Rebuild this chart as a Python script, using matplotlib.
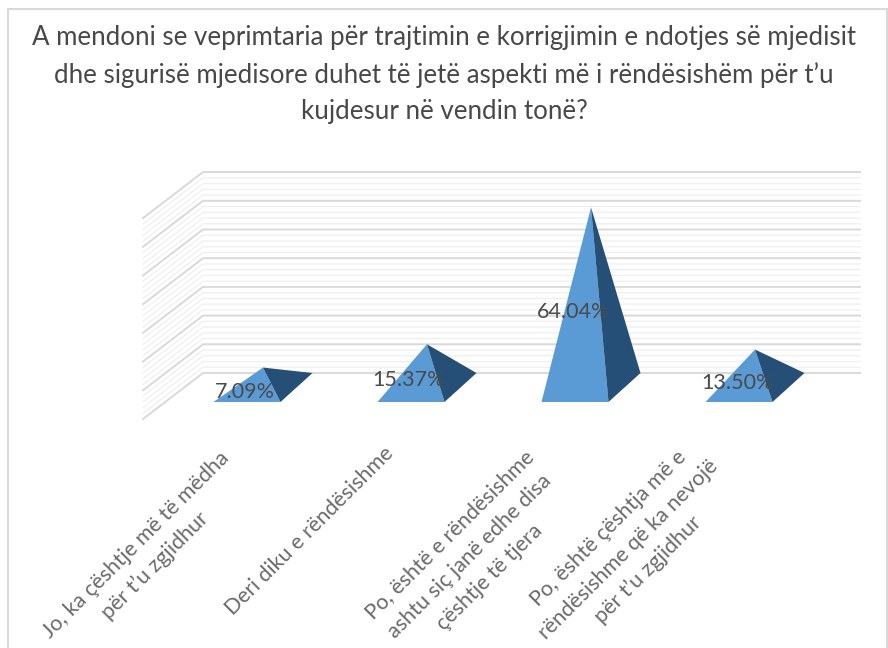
import matplotlib
matplotlib.use('Agg')
import matplotlib.pyplot as plt
from matplotlib.patches import Polygon, Rectangle

plt.rcParams['font.family'] = ['Lato', 'DejaVu Sans']

# values
categories = [
    'Jo, ka çështje më të mëdha\npër t\u2019u zgjidhur',
    'Deri diku e rëndësishme',
    'Po, është e rëndësishme\nashtu siç janë edhe disa\nçështje të tjera',
    'Po, është çështja më e\nrëndësishme që ka nevojë\npër t\u2019u zgjidhur',
]
values = [7.09, 15.37, 64.04, 13.50]
value_labels = ['7.09%', '15.37%', '64.04%', '13.50%']
major_ticks = [0, 10, 20, 30, 40, 50, 60, 70]
minor_ticks = [v for v in range(0, 70, 2) if v % 10 != 0]
title_lines = [
    'A mendoni se veprimtaria për trajtimin e korrigjimin e ndotjes së mjedisit',
    'dhe sigurisë mjedisore duhet të jetë aspekti më i rëndësishëm për t\u2019u',
    'kujdesur në vendin tonë?',
]

W, H = 888, 648
X_UNIT = 164.0   # px per category
Y_UNIT = 2.87    # px per percent
X0, Y0 = 247.0, 373.0

fig = plt.figure(figsize=(W / 100, H / 100), dpi=100)
ax = fig.add_axes([0, 0, 1, 1])
ax.set_xlim(-X0 / X_UNIT, (W - X0) / X_UNIT)
ax.set_ylim(-(H - Y0) / Y_UNIT, Y0 / Y_UNIT)
ax.axis('off')

# depth of the 3D box, in data units
wall_dx = -60 / X_UNIT
wall_dy = -46 / Y_UNIT
wall_x = -44 / X_UNIT
right_x = 613 / X_UNIT


def draw_grid(ticks, color, lw):
    for t in ticks:
        ax.plot([wall_x + wall_dx, wall_x, right_x], [t + wall_dy, t, t], color=color, lw=lw, zorder=1)


draw_grid(minor_ticks, '#efefef', 0.9)
draw_grid(major_ticks, '#d9d9d9', 1.4)

# pyramids: front face and side face
half = 33.5 / X_UNIT
depth_x = 32 / X_UNIT
depth_y = 29 / Y_UNIT
height_scale = 0.98
for i, v in enumerate(values):
    left = (i - half, -depth_y)
    right = (i + half, -depth_y)
    back = (i + half + depth_x, 0)
    apex_y = v * height_scale - depth_y / 2
    apex = (i + depth_x / 2, apex_y)
    ax.add_patch(Polygon([left, right, apex], closed=True, fc='#5b9bd5', ec='none', zorder=3))
    ax.add_patch(Polygon([right, back, apex], closed=True, fc='#264f78', ec='none', zorder=3))
    # data label a bit under the middle of the front face
    ax.text(i - 2 / X_UNIT, (apex_y - depth_y) / 2 - 7 / Y_UNIT, value_labels[i], ha='center', va='center',
            fontsize=15.5, color='#4a4a4a', zorder=4)

# category labels, rotated 45 degrees, one text per line
label_dx = [-111.5, -101.5, -125, -131]   # first line centre, px from the category
label_py = [544.5, 530.5, 535, 528]       # first line centre, px from the top
line_dx, line_dy = 20, 21
for i, lab in enumerate(categories):
    for n, line in enumerate(lab.split('\n')):
        x = i + (label_dx[i] + n * line_dx) / X_UNIT
        y = (Y0 - label_py[i] - n * line_dy) / Y_UNIT
        ax.text(x, y, line, rotation=45, rotation_mode='anchor', ha='center', va='center',
                fontsize=15.5, color='#6a6a6a')

title_y = [38, 75, 112]
for line, py in zip(title_lines, title_y):
    fig.text(444 / W, 1 - py / H, line, ha='center', va='center', fontsize=18.6, color='#484848')

# chart border
fig.add_artist(Rectangle((8 / W, -0.01), 879 / W, 1 - 9 / H + 0.01, transform=fig.transFigure,
                         fill=False, ec='#d9d9d9', lw=1.5))

fig.savefig('out.png', dpi=100, facecolor='white')
